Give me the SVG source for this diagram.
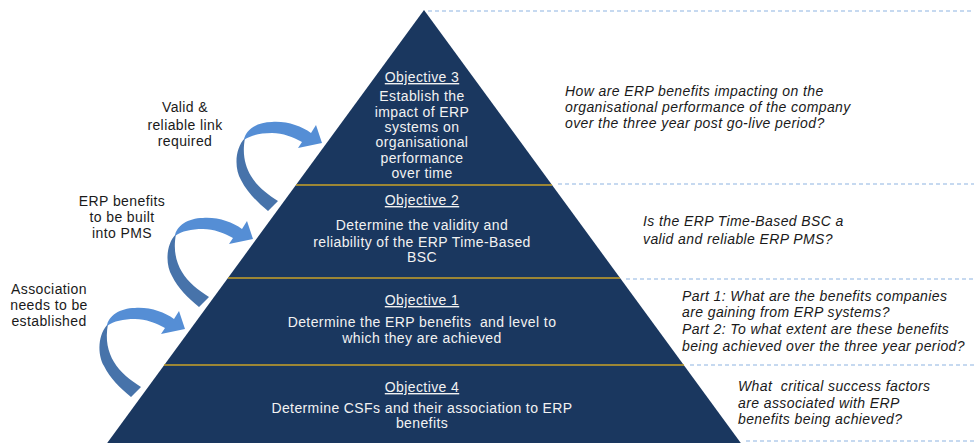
<svg xmlns="http://www.w3.org/2000/svg" width="974" height="443" viewBox="0 0 974 443">
<defs>
<style>
.w{font-family:"Liberation Sans",Arial,sans-serif;font-size:14px;letter-spacing:0.4px;fill:#F2F2F2;text-anchor:middle}
.u{text-decoration:underline}
.k{font-family:"Liberation Sans",Arial,sans-serif;font-size:14px;letter-spacing:0.4px;fill:#1A1A1A;text-anchor:middle}
.q{font-family:"Liberation Sans",Arial,sans-serif;font-size:14px;letter-spacing:0.4px;font-style:italic;fill:#1A1A1A}
.gold{stroke:#C9A227;stroke-width:1.6}
.dash{stroke:#8DB4E2;stroke-width:1.2;stroke-dasharray:4 3;fill:none}
.lt{fill:#558ED5}
.dk{fill:#4773AA}
</style>
<g id="curved-arrow">
<path class="dk" d="M20,28 C10,38 9,58 16,70 C22,82 32,92 43,101 L53,91 C42,84 32,76 26,66 C20,56 17,44 20,28 Z"/>
<path class="lt" d="M19,30 C20,20 32,12 47,12 C62,11 76,16 86,23 L91,15 L97,33 L73,38 L77,32 C68,27 58,23 47,23 C35,23 26,25 19,30 Z"/>
</g>
</defs>
<rect width="974" height="443" fill="#FFFFFF"/>
<g id="connectors">
<line class="dash" x1="428" y1="11" x2="974" y2="11"/>
<line class="dash" x1="558" y1="184" x2="974" y2="184"/>
<line class="dash" x1="626" y1="279" x2="974" y2="279"/>
<line class="dash" x1="690" y1="365" x2="974" y2="365"/>
<line class="dash" x1="746" y1="441" x2="974" y2="441"/>
<use href="#curved-arrow" transform="translate(225,110)"/>
<use href="#curved-arrow" transform="translate(156,206)"/>
<use href="#curved-arrow" transform="translate(88,296)"/>
</g>
<g id="pyramid">
<polygon points="424,10 743,446 105,446" fill="#1A375F"/>
<line class="gold" x1="296" y1="185" x2="552" y2="185"/>
<line class="gold" x1="228" y1="278" x2="620" y2="278"/>
<line class="gold" x1="164" y1="365" x2="684" y2="365"/>
</g>
<g id="objective3">
<text class="w u" x="422" y="82">Objective 3</text>
<text class="w" x="422" y="101">Establish the</text>
<text class="w" x="422" y="117">impact of ERP</text>
<text class="w" x="422" y="132">systems on</text>
<text class="w" x="422" y="147">organisational</text>
<text class="w" x="422" y="163">performance</text>
<text class="w" x="422" y="178">over time</text>
</g>
<g id="objective2">
<text class="w u" x="422" y="205">Objective 2</text>
<text class="w" x="422" y="230">Determine the validity and</text>
<text class="w" x="422" y="247">reliability of the ERP Time-Based</text>
<text class="w" x="422" y="262">BSC</text>
</g>
<g id="objective1">
<text class="w u" x="422" y="305">Objective 1</text>
<text class="w" x="422" y="327" xml:space="preserve">Determine the ERP benefits  and level to</text>
<text class="w" x="422" y="343">which they are achieved</text>
</g>
<g id="objective4">
<text class="w u" x="422" y="392">Objective 4</text>
<text class="w" x="422" y="413">Determine CSFs and their association to ERP</text>
<text class="w" x="422" y="428">benefits</text>
</g>
<g id="label-valid">
<text class="k" x="185" y="112">Valid &amp;</text>
<text class="k" x="185" y="130">reliable link</text>
<text class="k" x="185" y="146">required</text>
</g>
<g id="label-erp">
<text class="k" x="122" y="206">ERP benefits</text>
<text class="k" x="122" y="222">to be built</text>
<text class="k" x="122" y="238">into PMS</text>
</g>
<g id="label-association">
<text class="k" x="49" y="294">Association</text>
<text class="k" x="49" y="310">needs to be</text>
<text class="k" x="49" y="326">established</text>
</g>
<g id="question3">
<text class="q" x="565" y="96">How are ERP benefits impacting on the</text>
<text class="q" x="565" y="112">organisational performance of the company</text>
<text class="q" x="565" y="128">over the three year post go-live period?</text>
</g>
<g id="question2">
<text class="q" x="643" y="226">Is the ERP Time-Based BSC a</text>
<text class="q" x="643" y="244">valid and reliable ERP PMS?</text>
</g>
<g id="question1">
<text class="q" x="682" y="301">Part 1: What are the benefits companies</text>
<text class="q" x="682" y="317">are gaining from ERP systems?</text>
<text class="q" x="682" y="334">Part 2: To what extent are these benefits</text>
<text class="q" x="682" y="351">being achieved over the three year period?</text>
</g>
<g id="question4">
<text class="q" x="738" y="391" xml:space="preserve">What  critical success factors</text>
<text class="q" x="738" y="408">are associated with ERP</text>
<text class="q" x="738" y="424">benefits being achieved?</text>
</g>
</svg>
